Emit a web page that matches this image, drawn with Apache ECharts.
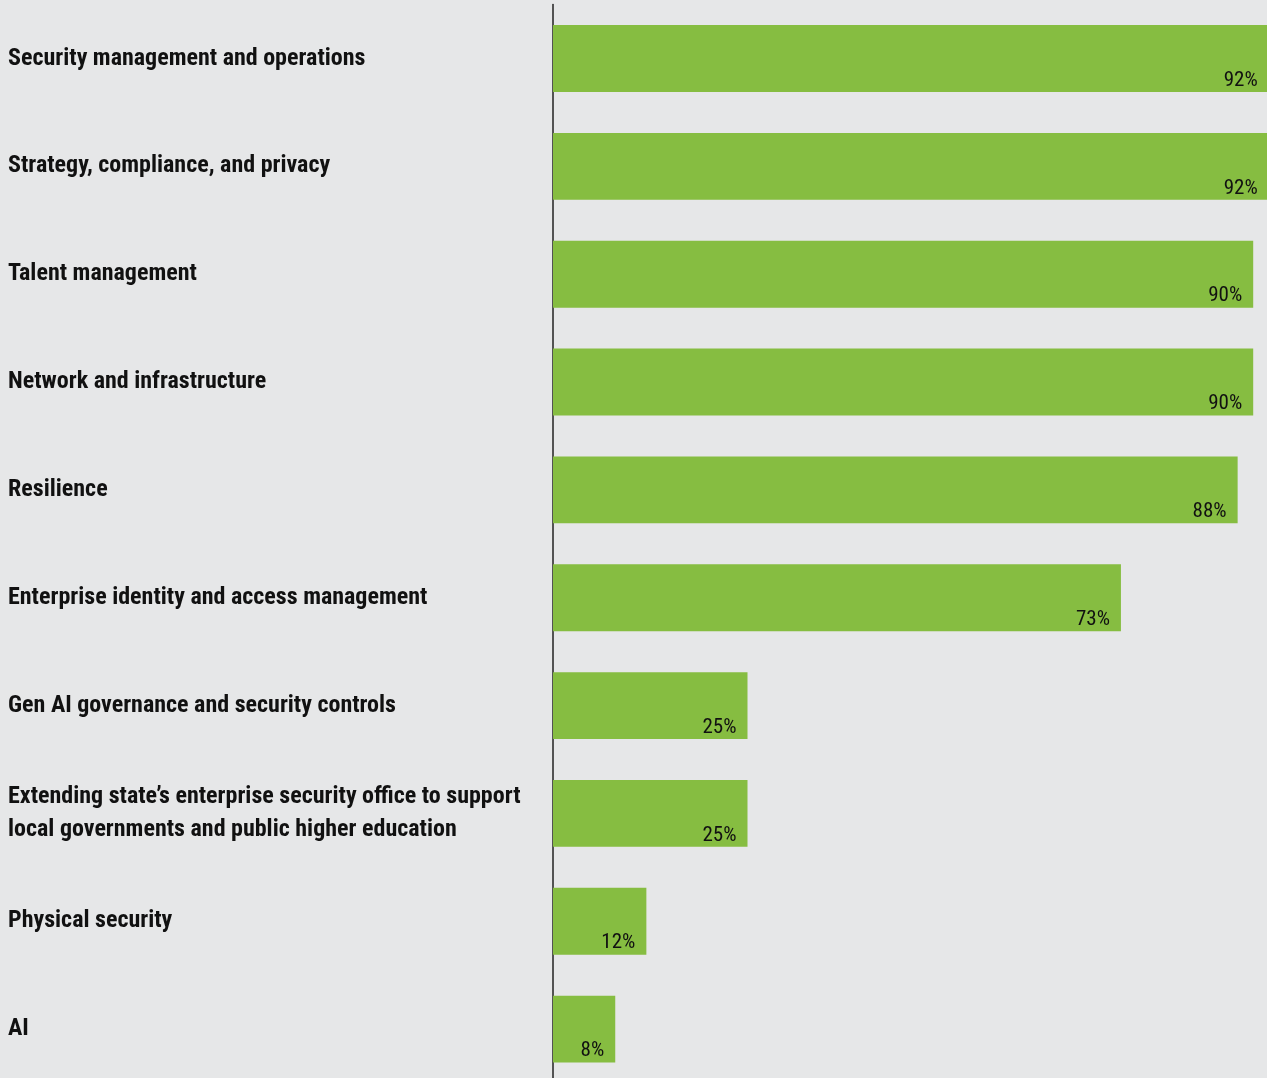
<!DOCTYPE html>
<html>
<head>
<meta charset="utf-8">
<script src="https://cdn.jsdelivr.net/npm/echarts@6/dist/echarts.min.js"></script>
<style>
  html, body { margin: 0; padding: 0; background: #e6e7e8; overflow: hidden; }
  /* the drawing area runs slightly past the window so the longest bars and the last row are cut at the edge */
  #chart { width: 1331px; height: 1083px; }
</style>
</head>
<body>
<div id="chart"></div>
<script>
// Priority areas and the share of respondents naming each
const categories = [
  'Security management and operations',
  'Strategy, compliance, and privacy',
  'Talent management',
  'Network and infrastructure',
  'Resilience',
  'Enterprise identity and access management',
  'Gen AI governance and security controls',
  'Extending state\u2019s enterprise security office to support\nlocal governments and public higher education',
  'Physical security',
  'AI'
];
const shares = [92, 92, 90, 90, 88, 73, 25, 25, 12, 8];

const chart = echarts.init(document.getElementById('chart'), null, { renderer: 'canvas' });

const labelFont = '"Roboto Condensed", "DejaVu Sans Condensed", sans-serif';

chart.setOption({
  backgroundColor: '#e6e7e8',
  animation: false,
  grid: { left: 553, right: 0, top: 4.6, bottom: 0, containLabel: false },
  xAxis: {
    type: 'value',
    min: 0,
    max: 100,
    show: false
  },
  yAxis: {
    type: 'category',
    inverse: true,
    data: categories,
    axisLine: { show: true, lineStyle: { color: '#222', width: 1.5 } },
    axisTick: { show: false },
    splitLine: { show: false },
    axisLabel: {
      align: 'left',
      margin: 545,
      color: '#111',
      fontFamily: labelFont,
      fontWeight: 'bold',
      fontSize: 24,
      lineHeight: 33
    }
  },
  series: [{
    type: 'bar',
    data: shares,
    barCategoryGap: '38%',
    itemStyle: { color: '#86bd41' },
    label: {
      show: true,
      position: 'insideBottomRight',
      distance: 0,
      offset: [-11, -1],
      formatter: '{c}%',
      color: '#111',
      fontFamily: labelFont,
      fontSize: 21
    }
  }]
});
</script>
</body>
</html>
